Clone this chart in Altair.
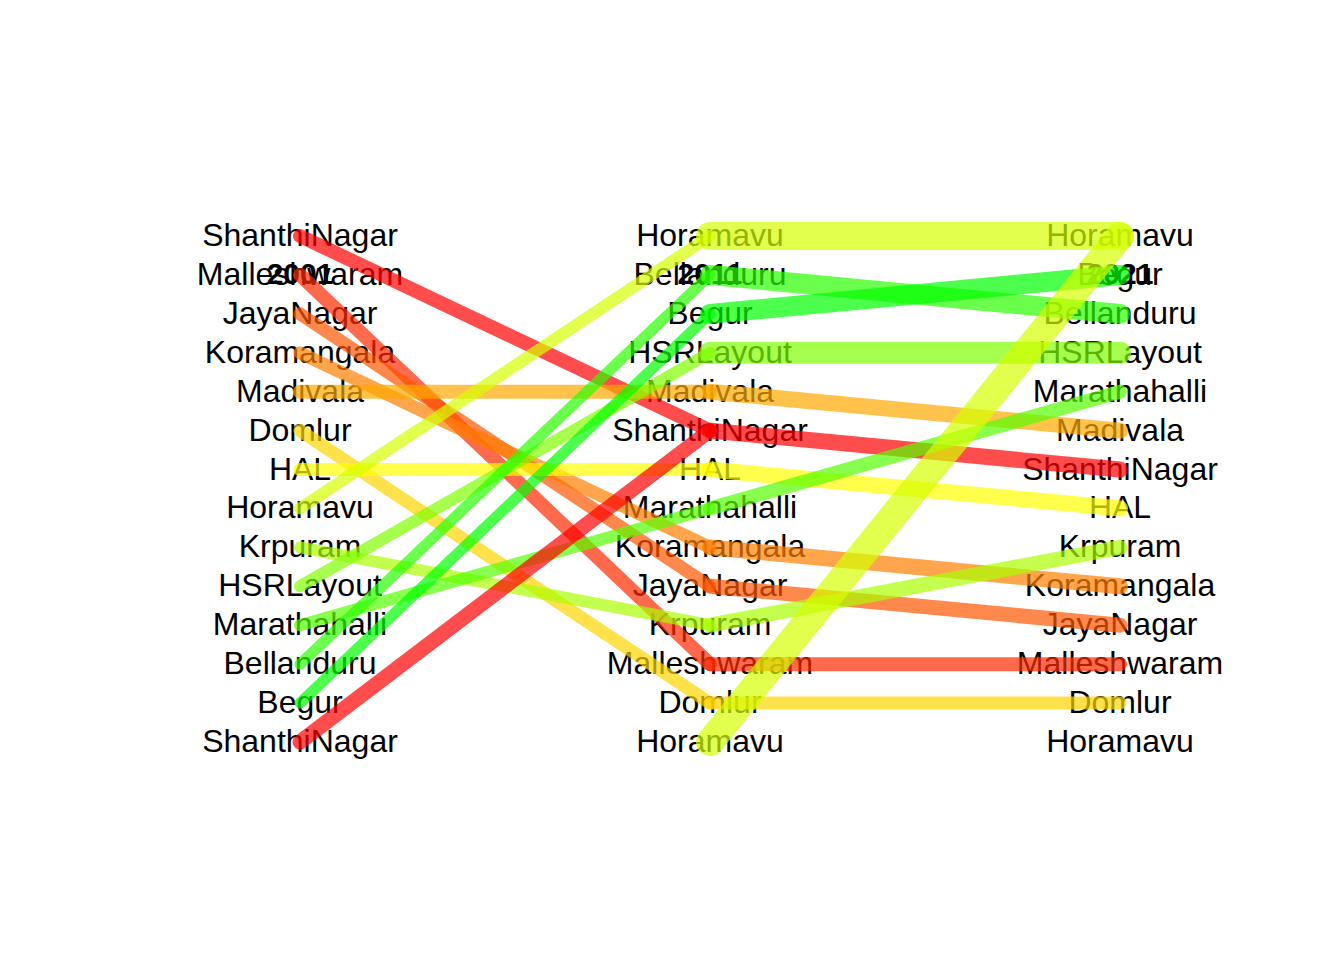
import altair as alt
import pandas as pd

# column years
years = [2001, 2011, 2021]

# area names, top to bottom, in each column
order_2001 = ["ShanthiNagar", "Malleshwaram", "JayaNagar", "Koramangala", "Madivala",
              "Domlur", "HAL", "Horamavu", "Krpuram", "HSRLayout", "Marathahalli",
              "Bellanduru", "Begur", "ShanthiNagar"]
order_2011 = ["Horamavu", "Bellanduru", "Begur", "HSRLayout", "Madivala", "ShanthiNagar",
              "HAL", "Marathahalli", "Koramangala", "JayaNagar", "Krpuram",
              "Malleshwaram", "Domlur", "Horamavu"]
order_2021 = ["Horamavu", "Begur", "Bellanduru", "HSRLayout", "Marathahalli", "Madivala",
              "ShanthiNagar", "HAL", "Krpuram", "Koramangala", "JayaNagar",
              "Malleshwaram", "Domlur", "Horamavu"]
columns = [order_2001, order_2011, order_2021]

# line weights for each source row of a column pair
weights_2001_2011 = [14, 14, 13, 13, 14, 13, 13, 12, 12, 12, 12, 11, 11, 15]
weights_2011_2021 = [28, 20, 20, 22, 16, 16, 16, 14, 16, 15, 15, 14, 13, 28]
weights = [weights_2001_2011, weights_2011_2021]

# red -> yellow -> green ramp, one colour per area
areas = ["ShanthiNagar", "Malleshwaram", "JayaNagar", "Koramangala", "Madivala", "Domlur",
         "HAL", "Horamavu", "Krpuram", "HSRLayout", "Marathahalli", "Bellanduru", "Begur"]
palette = ["#FF0000", "#FF2A00", "#FF5500", "#FF7F00", "#FFAA00", "#FFD400", "#FFFF00",
           "#D4FF00", "#AAFF00", "#7FFF00", "#55FF00", "#2AFF00", "#00FF00"]

n = len(order_2001)

# label table: rank n at the top, 1 at the bottom
label_rows = []
for year, names in zip(years, columns):
    for i, name in enumerate(names):
        label_rows.append({"year": year, "rank": n - i, "name": name})
labels = pd.DataFrame(label_rows)

# segments: each row joins the first row of the same name in the next column
seg_rows = []
for k in range(len(years) - 1):
    src, dst = columns[k], columns[k + 1]
    for i, name in enumerate(src):
        j = dst.index(name)
        seg_rows.append({
            "year": years[k], "year2": years[k + 1],
            "rank": n - i, "rank2": n - j,
            "name": name, "weight": weights[k][i],
        })
segments = pd.DataFrame(seg_rows)

titles = pd.DataFrame({"year": years, "rank": [n - 1] * len(years),
                       "label": [str(y) for y in years]})

x_scale = alt.Scale(domain=[1993.878, 2026.268], nice=False, zero=False)
y_scale = alt.Scale(domain=[-4.396, 19.859], nice=False, zero=False)

text_layer = alt.Chart(labels).mark_text(
    font="Liberation Sans", fontSize=32, color="black", align="center", baseline="middle"
).encode(
    x=alt.X("year:Q", scale=x_scale, axis=None),
    y=alt.Y("rank:Q", scale=y_scale, axis=None),
    text="name:N",
)

title_layer = alt.Chart(titles).mark_text(
    font="Liberation Sans", fontSize=30, fontWeight="bold", color="black",
    align="center", baseline="middle"
).encode(
    x=alt.X("year:Q", scale=x_scale, axis=None),
    y=alt.Y("rank:Q", scale=y_scale, axis=None),
    text="label:N",
)

line_layer = alt.Chart(segments).mark_rule(
    strokeCap="round", opacity=0.7
).encode(
    x=alt.X("year:Q", scale=x_scale, axis=None),
    x2="year2:Q",
    y=alt.Y("rank:Q", scale=y_scale, axis=None),
    y2="rank2:Q",
    color=alt.Color("name:N", scale=alt.Scale(domain=areas, range=palette), legend=None),
    strokeWidth=alt.StrokeWidth("weight:Q", scale=alt.Scale(domain=[0, 30], range=[0, 30]),
                                legend=None),
)

chart = alt.layer(text_layer, title_layer, line_layer).properties(
    width=1328,
    height=944,
    padding=0,
    autosize=alt.AutoSizeParams(type="none"),
    background="white",
).configure_view(stroke=None)

chart.save("out.html", embed_options={"renderer": "svg", "actions": False})
